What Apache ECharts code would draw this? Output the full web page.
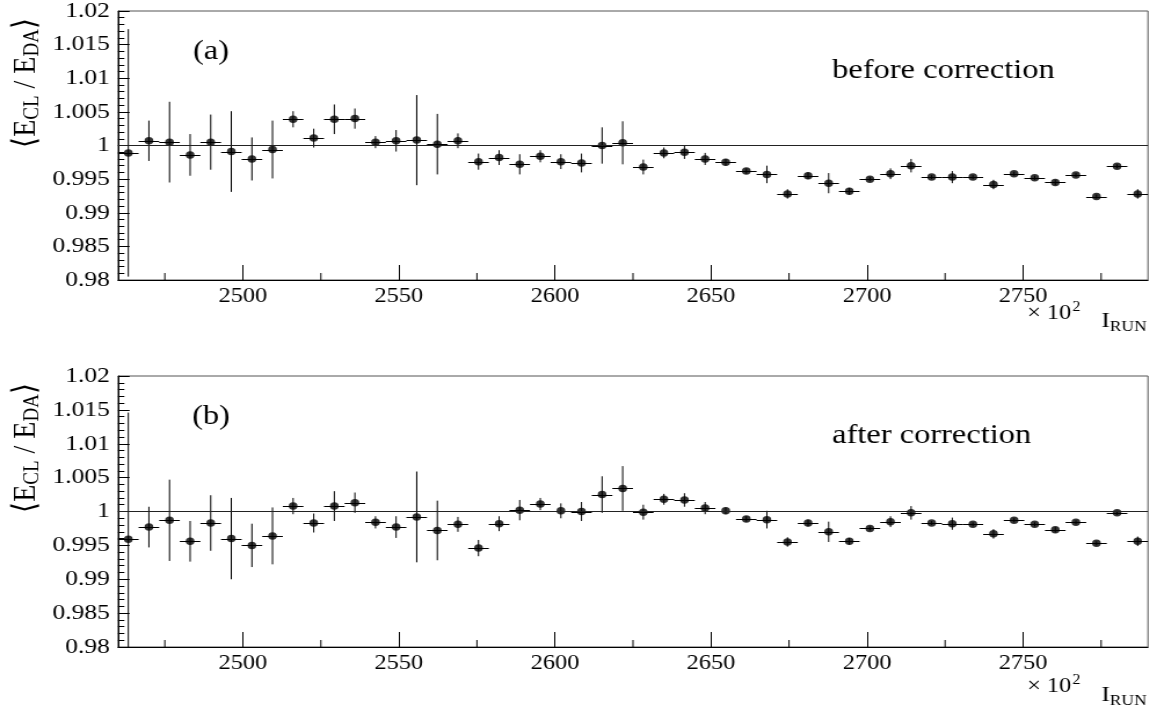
<!DOCTYPE html>
<html>
<head>
<meta charset="utf-8">
<script src="https://cdn.jsdelivr.net/npm/echarts@6/dist/echarts.min.js"></script>
<style>
  html, body { margin: 0; padding: 0; background: #fff; overflow: hidden; }
  /* the figure is laid out 998 px wide and widened to fill the 1157 px page */
  #chart { width: 998px; height: 715px; transform: scaleX(1.15932); transform-origin: 0 0; }
</style>
</head>
<body>
<div id="chart"></div>
<script>
// Run-bin centres (units of 100 runs), bins 6.6 wide over 2460..2790
const runs = [2463.3, 2469.9, 2476.5, 2483.1, 2489.7, 2496.3, 2502.9, 2509.5, 2516.1, 2522.7,
              2529.3, 2535.9, 2542.5, 2549.1, 2555.7, 2562.3, 2568.9, 2575.5, 2582.1, 2588.7,
              2595.3, 2601.9, 2608.5, 2615.1, 2621.7, 2628.3, 2634.9, 2641.5, 2648.1, 2654.7,
              2661.3, 2667.9, 2674.5, 2681.1, 2687.7, 2694.3, 2700.9, 2707.5, 2714.1, 2720.7,
              2727.3, 2733.9, 2740.5, 2747.1, 2753.7, 2760.3, 2766.9, 2773.5, 2780.1, 2786.7];
const runHalfBin = 3.3;

// <E_CL / E_DA> before the correction, with its uncertainty
const ratioBefore = [0.9989, 1.0007, 1.0005, 0.9986, 1.0005, 0.9991, 0.9980, 0.9994, 1.0039, 1.0011,
                     1.0039, 1.0040, 1.0005, 1.0007, 1.0008, 1.0002, 1.0007, 0.9976, 0.9982, 0.9972,
                     0.9984, 0.9976, 0.9974, 1.0000, 1.0004, 0.9968, 0.9989, 0.9990, 0.9980, 0.9975,
                     0.9962, 0.9957, 0.9928, 0.9955, 0.9944, 0.9932, 0.9950, 0.9958, 0.9970, 0.9953,
                     0.9953, 0.9953, 0.9942, 0.9958, 0.9952, 0.9945, 0.9956, 0.9924, 0.9969, 0.9928];
const errBefore = [0.0184, 0.0030, 0.0060, 0.0031, 0.0041, 0.0060, 0.0032, 0.0043, 0.0012, 0.0014,
                   0.0022, 0.0015, 0.0009, 0.0016, 0.0067, 0.0045, 0.0011, 0.0012, 0.0011, 0.0015,
                   0.0009, 0.0011, 0.0014, 0.0027, 0.0032, 0.0011, 0.0008, 0.0010, 0.0009, 0.0005,
                   0.0004, 0.0013, 0.0007, 0.0005, 0.0015, 0.0005, 0.0003, 0.0008, 0.0010, 0.0003,
                   0.0009, 0.0003, 0.0007, 0.0003, 0.0003, 0.0004, 0.0003, 0.0003, 0.0003, 0.0007];

// <E_CL / E_DA> after the correction, with its uncertainty
const ratioAfter = [0.9959, 0.9977, 0.9987, 0.9956, 0.9983, 0.9960, 0.9950, 0.9964, 1.0008, 0.9983,
                    1.0008, 1.0013, 0.9984, 0.9977, 0.9992, 0.9972, 0.9981, 0.9946, 0.9982, 1.0002,
                    1.0011, 1.0001, 1.0000, 1.0025, 1.0034, 0.9999, 1.0018, 1.0017, 1.0005, 1.0001,
                    0.9989, 0.9988, 0.9955, 0.9983, 0.9970, 0.9956, 0.9975, 0.9985, 0.9998, 0.9983,
                    0.9982, 0.9981, 0.9967, 0.9987, 0.9981, 0.9973, 0.9984, 0.9953, 0.9998, 0.9956];
const errAfter = [0.0187, 0.0030, 0.0060, 0.0030, 0.0041, 0.0060, 0.0032, 0.0042, 0.0012, 0.0014,
                  0.0022, 0.0015, 0.0009, 0.0016, 0.0067, 0.0044, 0.0011, 0.0012, 0.0011, 0.0015,
                  0.0009, 0.0011, 0.0014, 0.0027, 0.0033, 0.0011, 0.0008, 0.0010, 0.0009, 0.0005,
                  0.0004, 0.0013, 0.0007, 0.0005, 0.0015, 0.0005, 0.0003, 0.0008, 0.0010, 0.0003,
                  0.0009, 0.0003, 0.0007, 0.0003, 0.0003, 0.0004, 0.0003, 0.0003, 0.0003, 0.0007];

// Axis ticks
const xMajorTicks = [2500, 2550, 2600, 2650, 2700, 2750];
const xMinorTicks = [2475, 2525, 2575, 2625, 2675, 2725, 2775];
const xRange = [2460, 2790];
const yRange = [0.98, 1.02];
const yStep = 0.005;
const referenceLevel = 1;

const panelTags = ['(a)', '(b)'];
const panelNotes = ['before correction', 'after correction'];

const FONT = "'Liberation Serif', 'Times New Roman', serif";
const BLACK = '#000';

const panels = [
  { ratio: ratioBefore, err: errBefore, titleDrop: [33, 41],
    grid: { left: 101.8, top: 11, width: 888.4, height: 269 } },
  { ratio: ratioAfter,  err: errAfter,  titleDrop: [39, 48],
    grid: { left: 101.8, top: 376, width: 888.4, height: 271 } }
];

const chart = echarts.init(document.getElementById('chart'), null, { renderer: 'canvas' });

const grid = panels.map(p => Object.assign({
  show: true, borderColor: '#555', borderWidth: 1, backgroundColor: 'transparent'
}, p.grid));

const xAxis = panels.map((p, i) => ({
  type: 'value', gridIndex: i, min: xRange[0], max: xRange[1],
  axisLine: { show: true, onZero: false, lineStyle: { color: BLACK, width: 1 } },
  axisTick: { show: true, inside: true, length: 15, customValues: xMajorTicks,
              lineStyle: { color: BLACK, width: 1 } },
  axisLabel: { customValues: xMajorTicks, color: BLACK, fontFamily: FONT, fontSize: 21, margin: 6,
               formatter: v => String(v) },
  splitLine: { show: false }
}));

const yAxis = panels.map((p, i) => ({
  type: 'value', gridIndex: i, min: yRange[0], max: yRange[1], interval: yStep,
  axisLine: { show: true, onZero: false, lineStyle: { color: BLACK, width: 1 } },
  axisTick: { show: true, inside: true, length: 10, lineStyle: { color: BLACK, width: 1 } },
  minorTick: { show: true, splitNumber: 5, length: 5.5, lineStyle: { color: BLACK, width: 1 } },
  axisLabel: { color: BLACK, fontFamily: FONT, fontSize: 22, margin: 7,
               formatter: v => String(+v.toFixed(3)) },
  splitLine: { show: false }
}));

// error bars: vertical = uncertainty, horizontal = run-bin width
function renderErrorBar(params, api) {
  const x = api.value(0), y = api.value(1), e = api.value(2);
  const c = api.coord([x, y]);
  const hi = api.coord([x, Math.min(y + e, yRange[1])]);
  const lo = api.coord([x, Math.max(y - e, yRange[0])]);
  const l = api.coord([x - runHalfBin, y]);
  const r = api.coord([x + runHalfBin, y]);
  const yy = Math.round(c[1]) + 0.5;
  return {
    type: 'group',
    children: [
      { type: 'line', shape: { x1: c[0], y1: hi[1], x2: c[0], y2: lo[1] },
        style: { stroke: BLACK, lineWidth: 1 } },
      { type: 'line', shape: { x1: l[0], y1: yy, x2: r[0], y2: yy },
        style: { stroke: BLACK, lineWidth: 1 } }
    ]
  };
}

// short minor ticks on the run axis, half-way between the labelled ones
function renderMinorTick(params, api) {
  const p = api.coord([api.value(0), yRange[0]]);
  return { type: 'line', shape: { x1: p[0], y1: p[1], x2: p[0], y2: p[1] - 7 },
           style: { stroke: BLACK, lineWidth: 1 } };
}

const series = [];
panels.forEach((p, i) => {
  series.push({
    type: 'custom', xAxisIndex: i, yAxisIndex: i, renderItem: renderErrorBar,
    encode: { x: 0, y: 1 }, silent: true, z: 3,
    data: runs.map((r, k) => [r, p.ratio[k], p.err[k]])
  });
  series.push({
    type: 'scatter', xAxisIndex: i, yAxisIndex: i, symbol: 'circle', symbolSize: 7.5,
    itemStyle: { color: BLACK }, silent: true, z: 4,
    data: runs.map((r, k) => [r, p.ratio[k]]),
    markLine: {
      silent: true, symbol: 'none', label: { show: false },
      lineStyle: { color: '#222', width: 1, type: 'solid' },
      data: [{ yAxis: referenceLevel }]
    }
  });
  series.push({
    type: 'custom', xAxisIndex: i, yAxisIndex: i, renderItem: renderMinorTick,
    encode: { x: 0, y: 1 }, silent: true, z: 2,
    data: xMinorTicks.map(v => [v, yRange[0]])
  });
});

// panel captions, axis titles
const graphic = [];
panels.forEach((p, i) => {
  const top = p.grid.top;
  const bottom = p.grid.top + p.grid.height;
  graphic.push({
    type: 'text', x: 182, y: top + 41,
    style: { text: panelTags[i], fill: BLACK, fontFamily: FONT, fontSize: 28,
             textAlign: 'center', textVerticalAlign: 'middle' }
  });
  graphic.push({
    type: 'text', x: 717.7, y: top + 60,
    style: { text: panelNotes[i], fill: BLACK, fontFamily: FONT, fontSize: 28,
             textAlign: 'left', textVerticalAlign: 'middle' }
  });
  graphic.push({
    type: 'text', x: 22.4, y: top + 72, rotation: Math.PI / 2,
    style: {
      text: '{n|\u27E8E}{s|CL}{n| / E}{s|DA}{n|\u27E9}',
      fill: BLACK, textAlign: 'center', textVerticalAlign: 'middle',
      rich: {
        n: { fontFamily: FONT, fontSize: 28, fill: BLACK },
        s: { fontFamily: FONT, fontSize: 19, fill: BLACK, padding: [11, 0, 0, 0] }
      }
    }
  });
  // multiplier of the run axis
  graphic.push({
    type: 'text', x: 932, y: bottom + p.titleDrop[0],
    style: {
      text: '{n|\u00D7 10}{sup|2}',
      fill: BLACK, textAlign: 'right', textVerticalAlign: 'middle',
      rich: {
        n: { fontFamily: FONT, fontSize: 21, fill: BLACK },
        sup: { fontFamily: FONT, fontSize: 14, fill: BLACK, padding: [0, 0, 12, 1] }
      }
    }
  });
  // run-axis title
  graphic.push({
    type: 'text', x: 989, y: bottom + p.titleDrop[1],
    style: {
      text: '{i|I}{sub|RUN}',
      fill: BLACK, textAlign: 'right', textVerticalAlign: 'middle',
      rich: {
        i: { fontFamily: FONT, fontSize: 22, fill: BLACK },
        sub: { fontFamily: FONT, fontSize: 15, fill: BLACK, padding: [12, 0, 0, 0] }
      }
    }
  });
});

chart.setOption({
  animation: false,
  backgroundColor: '#fff',
  grid, xAxis, yAxis, series, graphic
});
</script>
</body>
</html>
